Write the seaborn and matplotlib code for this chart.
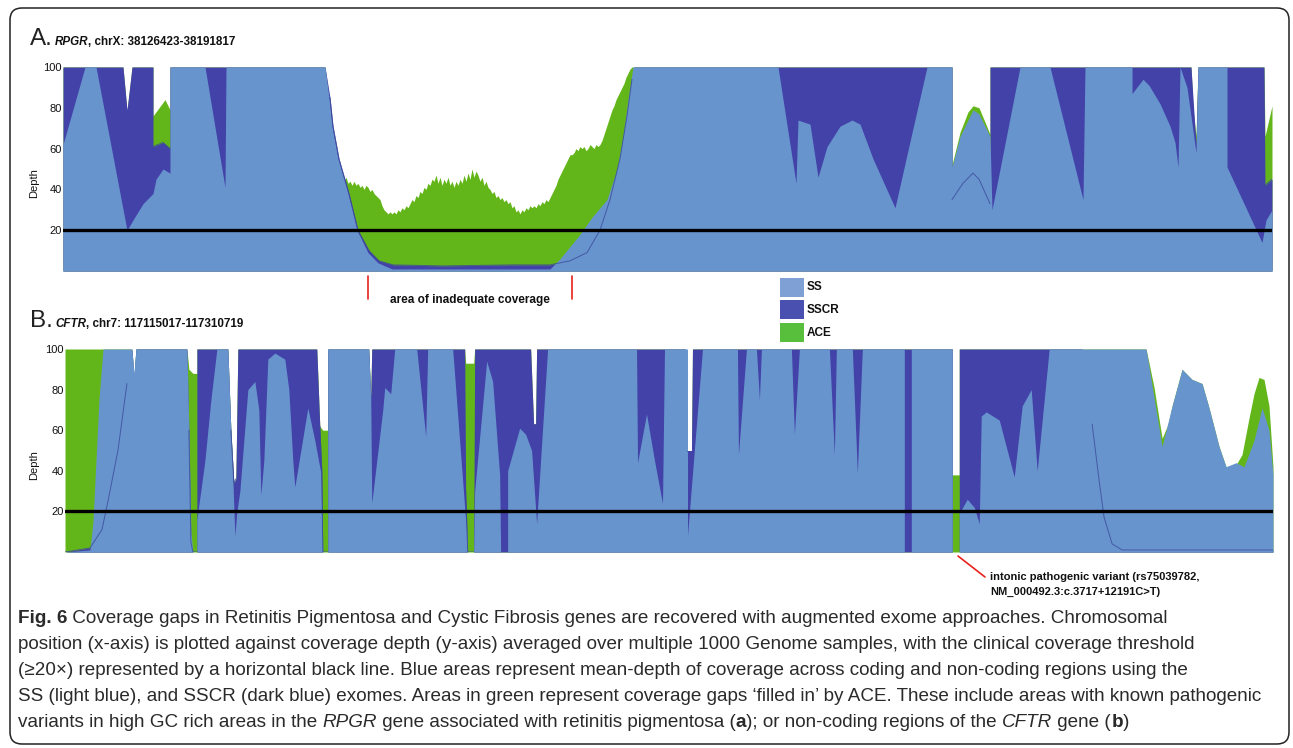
import numpy as np
import pandas as pd
import matplotlib
matplotlib.use("Agg")
import matplotlib.pyplot as plt
import seaborn as sns
from matplotlib.patches import FancyBboxPatch, Rectangle
from matplotlib.transforms import IdentityTransform
from matplotlib import font_manager

# ---------------- data (position bin, mean depth) ----------------
THRESHOLD = 20
Y_TICKS = [20, 40, 60, 80, 100]
SERIES = ["SS", "SSCR", "ACE"]
TITLE_A = ("RPGR", ", chrX: 38126423-38191817")
TITLE_B = ("CFTR", ", chr7: 117115017-117310719")

A_SS = [(0,62),(22,100),(33,100),(64,20),(70,25),(80,33),(90,38),(93,45),(100,50),(107,48),(107,100),
        (142,100),(162,41),(163,100),(262,100),(266,85),(269,71),(275,55),(285,38),(294,20),(305,9),(315,4),
        (329,1),(487,1),(497,6),(507,12),(517,18),(530,27),(544,35),(554,50),(560,66),(565,84),(570,100),
        (715,100),(733,43),(735,74),(747,72),(755,46),(764,61),(777,71),(789,74),(797,72),(810,55),(832,31),
        (850,70),(864,100),(889,100),(889,51),(897,66),(910,79),(916,77),(927,66),(929,30),(957,100),
        (987,100),(1020,35),(1022,100),(1069,100),(1069,87),(1080,94),(1086,91),(1097,82),(1107,71),
        (1112,63),(1115,51),(1117,100),(1124,90),(1133,58),(1135,100),(1164,100),(1164,51),(1199,14),
        (1203,25),(1209,30)]
A_SSCR = [(0,100),(60,100),(64,79),(69,100),(90,100),(90,61),(100,63),(107,60),(107,100),(262,100),
          (267,85),(270,71),(276,55),(286,38),(295,20),(306,10),(316,5),(330,3),(380,2.5),(450,3),(487,3),
          (497,4),(507,5),(524,9),(537,20),(547,35),(557,55),(564,76),(569,94),(571,100),(889,100),(889,35),
          (900,43),(910,48),(916,45),(927,33),(927,100),(1128,100),(1133,62),(1135,100),(1201,100),
          (1202,42),(1209,45)]
A_ACE = [(0,100),(60,100),(64,78),(69,100),(90,100),(90,76),(96,80),(102,84),(107,79),(107,100),
         (262,100),(266,85),(269,71),(273,60),(276,52),(279,45),(281,44),(283,46),(285,43),(287,44),(289,42),
         (291,44),(293,42),(295,43),(297,41),(299,42),(301,40),(303,42),(305,41),(307,39),(309,40),(311,38),
         (313,37),(315,36),(317,35),(319,32),(321,30),(323,29),(325,28),(327,29),(329,28),(331,29),(333,28),
         (335,30),(337,29),(339,31),(341,30),(343,32),(345,31),(347,33),(349,35),(351,34),(353,37),(355,36),
         (357,39),(359,38),(361,41),(363,40),(365,43),(367,42),(369,45),(371,44),(373,47),(375,43),(377,46),
         (379,42),(381,45),(383,43),(385,46),(387,42),(389,44),(391,41),(393,44),(395,42),(397,45),(399,43),
         (401,47),(403,44),(405,48),(407,45),(409,50),(411,46),(413,49),(415,47),(417,44),(419,46),(421,42),
         (423,44),(425,41),(427,40),(429,38),(431,39),(433,36),(435,37),(437,35),(439,36),(441,34),(443,35),
         (445,33),(447,34),(449,31),(451,32),(453,29),(455,30),(457,28),(459,30),(461,29),(463,31),(465,30),
         (467,32),(469,31),(471,32),(473,31),(475,33),(477,32),(479,34),(481,33),(483,35),(485,34),(487,36),
         (489,38),(491,40),(493,42),(495,45),(497,47),(499,49),(501,51),(503,53),(505,55),(507,57),(509,57),
         (511,58),(513,60),(515,59),(517,61),(519,60),(521,61),(523,59),(525,60),(527,62),(529,61),(531,60),
         (533,62),(535,61),(537,62),(539,64),(541,67),(543,70),(545,73),(547,76),(549,79),(551,81),(553,84),
         (555,86),(557,88),(559,90),(561,92),(563,95),(565,97),(567,99),(569,100),(889,100),(889,52),
         (897,68),(905,78),(910,81),(916,80),(922,73),(927,67),(927,100),(1128,100),(1130,80),(1133,66),
         (1135,100),(1201,100),(1202,66),(1209,81)]

B_SS = [(0,0),(25,1),(28,15),(31,45),(34,75),(38,100),(67,100),(69,88),(71,100),(122,100),(124,60),
        (126,10),(128,0),(132,0),(132,16),(140,45),(146,75),(152,100),(163,100),(166,60),(168,36),(170,8),
        (172,20),(175,30),(183,80),(190,84),(194,70),(196,28),(199,45),(203,95),(210,98),(220,95),(224,80),
        (228,45),(230,32),(243,71),(250,55),(256,39),(258,0),(263,0),(263,100),(304,100),(306,76),(307,24),
        (318,70),(320,81),(326,78),(330,100),(352,100),(361,57),(363,100),(388,100),(400,22),(402,10),
        (403,0),(409,0),(410,30),(422,94),(428,84),(435,38),(436,0),(443,0),(443,40),(455,61),(461,58),
        (467,50),(472,14),(483,100),(572,100),(573,44),(582,68),(590,45),(598,24),(600,100),(623,100),
        (623,8),(638,100),(673,100),(674,48),(682,100),(692,100),(695,75),(697,100),(727,100),(730,58),
        (735,100),(765,100),(770,48),(772,100),(788,100),(793,39),(798,100),(840,100),(840,0),(847,0),
        (847,100),(888,100),(888,0),(895,0),(895,19),(903,26),(910,22),(915,14),(917,67),(922,69),(935,65),
        (950,37),(958,72),(967,80),(973,40),(980,75),(985,100),(1082,100),(1098,52),(1108,72),(1118,90),
        (1128,85),(1138,83),(1145,71),(1155,52),(1162,42),(1172,44),(1180,42),(1190,55),(1198,71),
        (1205,60),(1209,38)]
B_SSCR = [(0,0),(13,1),(25,2),(37,11),(43,25),(53,50),(62,83),(67,100),(69,86),(71,100),(122,100),
          (124,60),(126,5),(128,0),(132,0),(132,100),(163,100),(166,60),(169,34),(171,36),(173,100),
          (252,100),(255,62),(257,40),(258,0),(263,0),(263,100),(304,100),(306,76),(307,100),(400,100),
          (401,30),(403,0),(409,0),(410,100),(466,100),(469,63),(471,63),(472,100),(621,100),(623,50),
          (627,50),(628,100),(888,100),(888,0),(895,0),(895,100),(1018,100),(1028,63),(1035,35),(1040,17),
          (1048,4),(1058,1),(1209,1)]
B_ACE = [(0,100),(67,100),(69,86),(71,100),(122,100),(124,90),(128,88),(132,88),(132,100),(163,100),
         (166,60),(169,34),(171,36),(173,100),(252,100),(255,62),(258,60),(263,60),(263,100),(304,100),
         (306,76),(307,100),(400,100),(401,93),(409,93),(410,100),(466,100),(469,63),(471,63),(472,100),
         (621,100),(623,50),(627,50),(628,100),(888,100),(888,38),(895,38),(895,100),(1082,100),(1090,81),
         (1098,56),(1104,63),(1108,72),(1118,90),(1128,85),(1138,83),(1145,71),(1155,52),(1162,42),
         (1172,43),(1178,48),(1185,66),(1190,78),(1195,86),(1200,85),(1205,72),(1209,42)]

CAPTION = [
    [("Fig. 6", "bold", "normal"), (" Coverage gaps in Retinitis Pigmentosa and Cystic Fibrosis genes are recovered with augmented exome approaches. Chromosomal", "normal", "normal")],
    [("position (x-axis) is plotted against coverage depth (y-axis) averaged over multiple 1000 Genome samples, with the clinical coverage threshold", "normal", "normal")],
    [("(\u226520\u00d7) represented by a horizontal black line. Blue areas represent mean-depth of coverage across coding and non-coding regions using the", "normal", "normal")],
    [("SS (light blue), and SSCR (dark blue) exomes. Areas in green represent coverage gaps \u2018filled in\u2019 by ACE. These include areas with known pathogenic", "normal", "normal")],
    [("variants in high GC rich areas in the ", "normal", "normal"), ("RPGR", "normal", "italic"),
     (" gene associated with retinitis pigmentosa (", "normal", "normal"), ("a", "bold", "normal"),
     ("); or non-coding regions of the ", "normal", "normal"), ("CFTR", "normal", "italic"),
     (" gene (", "normal", "normal"), ("b", "bold", "normal"), (")", "normal", "normal")],
]
CAPTION_RIGHT = [1238, 1273, 1266, 1267, 1098]

# ---------------- style ----------------
LIGHT = "#6894CD"
DARK = "#4242A9"
GREEN = "#63B61A"
TRACE = "#3A4A9A"
LEG_COLORS = {"SS": "#7EA0D5", "SSCR": "#4A50AF", "ACE": "#57BF3B"}

sns.set_theme(style="white")
avail = {f.name for f in font_manager.fontManager.ttflist}
def fam(*names):
    return [n for n in names if n in avail] + ["DejaVu Sans"]
BASE = fam("Liberation Sans")
NARROW = fam("Liberation Sans Narrow", "Liberation Sans")
plt.rcParams["font.family"] = BASE

W, H = 1293, 748
fig = plt.figure(figsize=(W / 100, H / 100), dpi=100)
renderer = fig.canvas.get_renderer()

def fx(px):
    return px / W

def fy(py):
    return 1 - py / H

def draw_panel(ax, ss, sscr, ace):
    for series, color in ((ace, GREEN), (sscr, DARK), (ss, LIGHT)):
        arr = np.array(series, dtype=float)
        ax.fill_between(arr[:, 0], 0, np.minimum(arr[:, 1], 100), color=color, lw=0)
    arr = np.array(sscr, dtype=float)
    y = np.where(arr[:, 1] >= 100, np.nan, arr[:, 1])
    seg = np.cumsum(np.isnan(y))
    df = pd.DataFrame({"pos": arr[:, 0], "depth": y, "seg": seg}).dropna()
    sns.lineplot(data=df, x="pos", y="depth", units="seg", estimator=None, sort=False,
                 color=TRACE, lw=0.7, alpha=0.8, ax=ax, legend=False)
    ax.axhline(THRESHOLD, color="black", lw=2.4)
    ax.set_xlim(0, 1209)
    ax.set_ylim(0, 100)
    ax.set_yticks(Y_TICKS)
    ax.set_yticklabels([str(t) for t in Y_TICKS], fontsize=8, color="#111")
    ax.set_xticks([])
    ax.set_xlabel("")
    ax.set_ylabel("")
    ax.tick_params(axis="y", length=0, pad=1)
    sns.despine(ax=ax, left=True, bottom=True)

axA = fig.add_axes([fx(63), fy(271), (1272 - 63) / W, (271 - 67) / H])
axB = fig.add_axes([fx(65), fy(552), (1273 - 65) / W, (552 - 349) / H])
draw_panel(axA, A_SS, A_SSCR, A_ACE)
draw_panel(axB, B_SS, B_SSCR, B_ACE)

for ypx in (183, 465):
    fig.text(fx(34), fy(ypx), "Depth", rotation=90, ha="center", va="center", fontsize=8, color="#111")

def measure(txt, **kw):
    t1 = fig.text(0, 0, "x" + txt + "x", **kw)
    t2 = fig.text(0, 0, "xx", **kw)
    w = t1.get_window_extent(renderer).width - t2.get_window_extent(renderer).width
    t1.remove(); t2.remove()
    return w

def rich(x_px, base_px, parts, size, family, color, draw=True):
    x = x_px
    for txt, weight, style in parts:
        kw = dict(fontsize=size, fontweight=weight, fontstyle=style, family=family, color=color)
        if draw:
            fig.text(fx(x), fy(base_px), txt, ha="left", va="baseline", **kw)
        x += measure(txt, **kw)
    return x

# panel titles
for letter, (gene, coords), base in (("A.", TITLE_A, 45), ("B.", TITLE_B, 327)):
    fig.text(fx(30), fy(base), letter, fontsize=17.5, fontweight="normal", family=BASE,
             color="#222", ha="left", va="baseline")
    rich(55, base, [(gene, "bold", "italic"), (coords, "bold", "normal")], 8.4, BASE, "#111")

# area of inadequate coverage
for xpx in (368, 572):
    fig.add_artist(plt.Line2D([fx(xpx), fx(xpx)], [fy(276), fy(299)], color="#E8221B", lw=1.2))
fig.text(fx(470), fy(300), "area of inadequate coverage", ha="center", va="center",
         fontsize=8.5, fontweight="bold", color="#111")

# legend
for name, top in zip(SERIES, (278, 300, 323)):
    fig.add_artist(Rectangle((fx(780), fy(top + 19)), 24 / W, 19 / H, transform=fig.transFigure,
                             color=LEG_COLORS[name], lw=0))
    fig.text(fx(807), fy(top + 9.5), name, ha="left", va="center", fontsize=8.5,
             fontweight="bold", color="#111")

# variant annotation
fig.add_artist(plt.Line2D([fx(958), fx(985)], [fy(556), fy(577)], color="#E8221B", lw=1.2))
fig.text(fx(990), fy(577), "intonic pathogenic variant (rs75039782,", ha="left", va="center",
         fontsize=8, fontweight="bold", color="#111")
fig.text(fx(990), fy(592), "NM_000492.3:c.3717+12191C>T)", ha="left", va="center",
         fontsize=8, fontweight="bold", color="#111")

# caption: one size so that the four full lines fit within their reference widths
cap_family = NARROW
ratios = []
for line, right in zip(CAPTION[:4], CAPTION_RIGHT[:4]):
    w10 = rich(18, 0, line, 10, cap_family, "#222", draw=False) - 18
    ratios.append((right - 18) / w10)
cap_size = 10 * min(ratios)
for line, base in zip(CAPTION, (623, 649, 675, 701, 727)):
    rich(18, base, line, cap_size, cap_family, "#2a2a2a")

# rounded frame
frame = FancyBboxPatch((10, H - 744), 1279, 736, boxstyle="round,pad=0,rounding_size=12",
                       transform=IdentityTransform(), fill=False, ec="#222", lw=1.1)
fig.add_artist(frame)

fig.savefig("out.png", dpi=100, facecolor="white")
